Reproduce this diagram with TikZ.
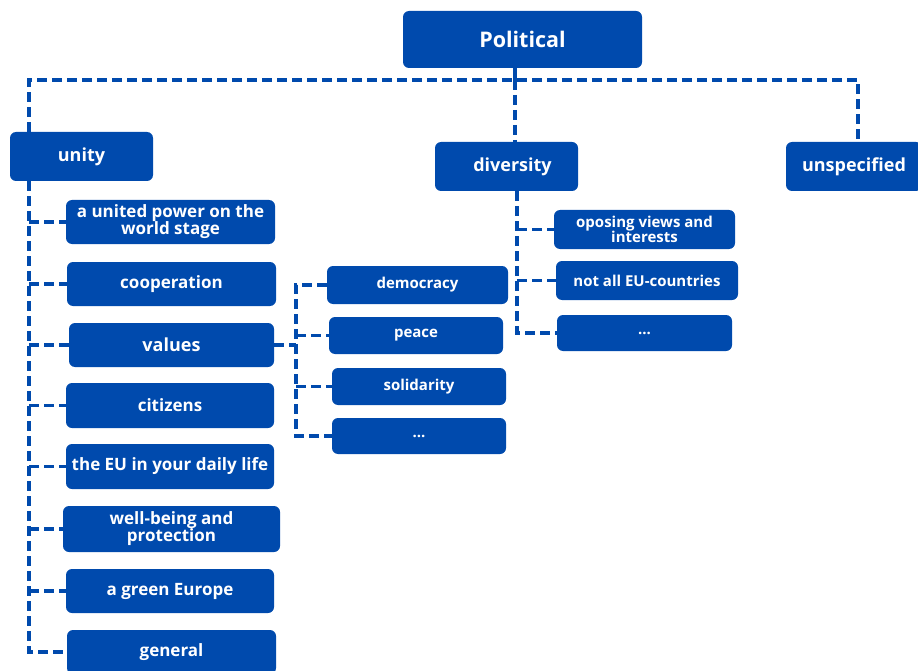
\documentclass[tikz,border=0pt]{standalone}
\usepackage{fontspec}
\setmainfont{Open Sans}
\definecolor{eublue}{RGB}{0,74,173}
\tikzset{
  box/.style={fill=eublue, rounded corners=6pt, text=white, align=center, inner sep=1pt, font=\bfseries\fontsize{17}{17}\selectfont},
  big/.style={font=\bfseries\fontsize{21.5}{21.5}\selectfont},
  mid/.style={font=\bfseries\fontsize{18}{18}\selectfont},
  small/.style={font=\bfseries\fontsize{15}{15}\selectfont},
  conn/.style={draw=eublue, line width=3.5pt, dash pattern=on 10pt off 5pt},
}
\begin{document}
\begin{tikzpicture}[x=1pt,y=-1pt]
\useasboundingbox (0,0) rectangle (918,671);
\node[box,big,minimum width=239pt,minimum height=57pt] (pol) at (522.5,39.5) {Political};
\node[box,mid,minimum width=143pt,minimum height=49pt] (unity) at (81.5,156.5) {unity};
\node[box,mid,minimum width=143pt,minimum height=49pt] (div) at (506.5,166.5) {\hspace*{12pt}diversity};
\node[box,mid,minimum width=136pt,minimum height=49pt] (uns) at (854,166.5) {unspecified};
% unity children
\node[box,minimum width=209pt,minimum height=44pt] (L1) at (170.5,222) {a united power on the\\world stage};
\node[box,minimum width=209pt,minimum height=44pt] (L2) at (171.5,284) {cooperation};
\node[box,mid,minimum width=205pt,minimum height=44pt] (L3) at (171.5,345) {values};
\node[box,minimum width=208pt,minimum height=45pt] (L4) at (170,405.5) {citizens};
\node[box,minimum width=208pt,minimum height=45pt] (L5) at (170,466.5) {the EU in your daily life};
\node[box,minimum width=217pt,minimum height=46pt] (L6) at (171.5,529) {well-being and\\protection};
\node[box,minimum width=208pt,minimum height=44pt] (L7) at (170,591) {a green Europe};
\node[box,minimum width=209pt,minimum height=44pt] (L8) at (171.5,652) {general};
% values children
\node[box,small,minimum width=181pt,minimum height=38pt] (V1) at (417.5,285) {democracy};
\node[box,small,minimum width=174pt,minimum height=37pt] (V2) at (416,335.5) {peace};
\node[box,small,minimum width=174pt,minimum height=37pt] (V3) at (419,386.5) {solidarity};
\node[box,small,minimum width=174pt,minimum height=36pt] (V4) at (419,436) {...};
% diversity children
\node[box,small,minimum width=181pt,minimum height=39pt] (D1) at (644.5,229.5) {oposing views and\\interests};
\node[box,small,minimum width=182pt,minimum height=39pt] (D2) at (647,280.5) {not all EU-countries};
\node[box,small,minimum width=175pt,minimum height=36pt] (D3) at (644.5,333) {...};
% coordinates
\coordinate (ux) at (29,0);
\coordinate (px) at (515,0);
\coordinate (rx) at (858,0);
\coordinate (topy) at (0,80);
\coordinate (vx) at (296,0);
\coordinate (dx) at (517,0);
% top connectors
\draw[eublue, line width=3.5pt] (pol.south -| px) -- (px |- topy);
\draw[conn] (unity.north -| ux) -- (ux |- topy) -- (rx |- topy) -- (uns.north -| rx);
\draw[conn] (px |- topy) -- (div.north -| px);
% unity tree
\draw[conn] (unity.south -| ux) -- (ux |- L8.west) -- (L8.west);
\foreach \n in {L1,L2,L3,L4,L5,L6,L7}
  \draw[conn] (ux |- \n.west) -- (\n.west);
% values tree
\draw[conn] (L3.east) -- (vx |- L3.east);
\draw[conn] (V1.west) -- (vx |- V1.west) -- (vx |- V4.west) -- (V4.west);
\foreach \n in {V2,V3}
  \draw[conn] (vx |- \n.west) -- (\n.west);
% diversity tree
\draw[conn] (div.south -| dx) -- (dx |- D3.west) -- (D3.west);
\foreach \n in {D1,D2}
  \draw[conn] (dx |- \n.west) -- (\n.west);
\end{tikzpicture}
\end{document}
